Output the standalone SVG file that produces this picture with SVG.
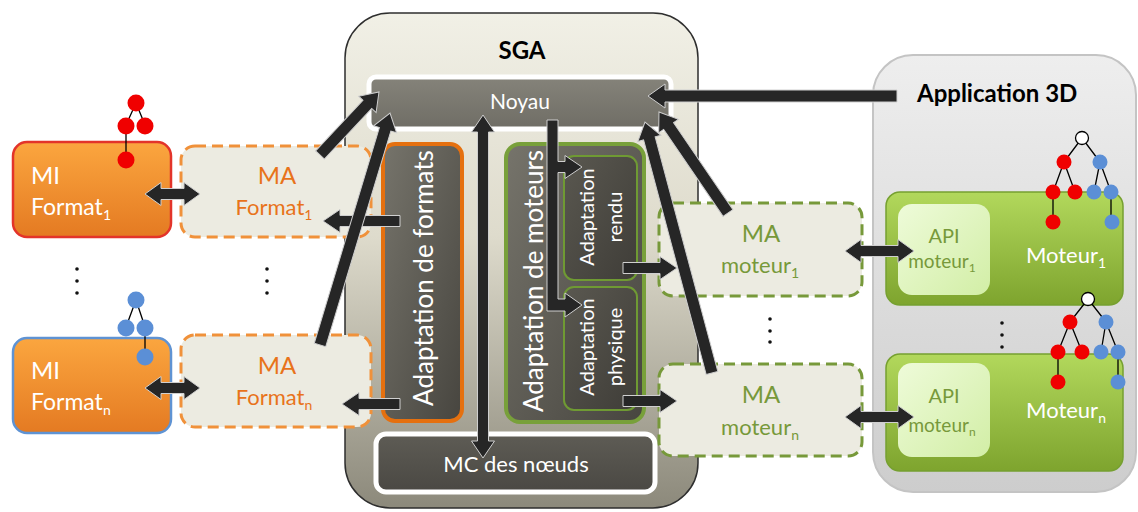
<svg xmlns="http://www.w3.org/2000/svg" width="1138" height="512" viewBox="0 0 1138 512">
<defs>
<linearGradient id="gSga" x1="0" y1="0" x2="0" y2="1">
<stop offset="0" stop-color="#f1f0e6"/><stop offset="0.45" stop-color="#dedbcc"/><stop offset="1" stop-color="#8c897b"/>
</linearGradient>
<linearGradient id="gApp" x1="0" y1="0" x2="0" y2="1">
<stop offset="0" stop-color="#eeeeee"/><stop offset="1" stop-color="#cdcdcd"/>
</linearGradient>
<linearGradient id="gNoy" x1="0" y1="0" x2="0" y2="1">
<stop offset="0" stop-color="#85837a"/><stop offset="1" stop-color="#6f6d65"/>
</linearGradient>
<linearGradient id="gDark" x1="0" y1="0" x2="1" y2="1">
<stop offset="0" stop-color="#76746b"/><stop offset="1" stop-color="#47453f"/>
</linearGradient>
<linearGradient id="gSub" x1="0" y1="0" x2="1" y2="1">
<stop offset="0" stop-color="#5a5850"/><stop offset="1" stop-color="#3f3d38"/>
</linearGradient>
<linearGradient id="gMC" x1="0" y1="0" x2="0" y2="1">
<stop offset="0" stop-color="#5e5c55"/><stop offset="1" stop-color="#4a4843"/>
</linearGradient>
<linearGradient id="gOr" x1="0" y1="0" x2="0" y2="1">
<stop offset="0" stop-color="#fba63f"/><stop offset="1" stop-color="#e47a22"/>
</linearGradient>
<linearGradient id="gGr" x1="0" y1="0" x2="0" y2="1">
<stop offset="0" stop-color="#b2d85c"/><stop offset="1" stop-color="#7ea42e"/>
</linearGradient>
<linearGradient id="gApi" x1="0" y1="0" x2="1" y2="1">
<stop offset="0" stop-color="#eefbd9"/><stop offset="1" stop-color="#d2eea6"/>
</linearGradient>
<style>
text{font-family:Lato,"Liberation Sans",sans-serif}
.w{fill:#ffffff}
.or{fill:#e8731a}
.gr{fill:#77993a}
.ma{fill:#ecebe1;stroke-width:3;stroke-dasharray:11 6}
.mao{stroke:#f0913a}
.mag{stroke:#77993a}
.mi{fill:url(#gOr);stroke-width:2.5}
.mot{fill:url(#gGr);stroke:#76a030;stroke-width:1.5}
.api{fill:url(#gApi)}
.sub{fill:url(#gSub);stroke:#6f9a33;stroke-width:2}
.arr{fill:#262626;stroke:#cfcfcf;stroke-width:1}
.tl{stroke:#000;stroke-width:1.3;fill:none}
.r{fill:#f00000}
.b{fill:#5b8fd6}
.rt{fill:#ffffff;stroke:#000;stroke-width:1.3}
.dot{fill:#111}
</style>
</defs>

<g id="app3d">
<rect x="873" y="55" width="263" height="437" rx="40" fill="url(#gApp)" stroke="#c4c4c4" stroke-width="2"/>
<text x="917" y="102" font-size="24" font-weight="bold" fill="#000">Application 3D</text>
</g>

<g id="sga">
<rect x="345" y="13" width="353" height="495" rx="45" fill="url(#gSga)" stroke="#2e2e2e" stroke-width="1.5"/>
<text x="522" y="59" font-size="24" font-weight="bold" text-anchor="middle" fill="#000">SGA</text>
</g>

<g id="noyau">
<rect x="369" y="77" width="302" height="52" rx="7" fill="url(#gNoy)" stroke="#ffffff" stroke-width="5"/>
<text x="520" y="109" font-size="21" text-anchor="middle" class="w">Noyau</text>
</g>

<g id="adapt-formats">
<rect x="383" y="144" width="79" height="277" rx="12" fill="url(#gDark)" stroke="#e5700f" stroke-width="4"/>
<text transform="translate(433,278) rotate(-90)" font-size="26" text-anchor="middle" class="w">Adaptation de formats</text>
</g>

<g id="adapt-moteurs">
<rect x="506" y="144" width="138" height="278" rx="14" fill="url(#gDark)" stroke="#78a03a" stroke-width="4"/>
<text transform="translate(543,281) rotate(-90)" font-size="26" text-anchor="middle" class="w">Adaptation de moteurs</text>
</g>

<g id="adapt-rendu">
<rect x="564" y="156" width="73" height="124" rx="10" class="sub"/>
<g transform="translate(594,217) rotate(-90)" font-size="20" text-anchor="middle">
<text x="0" y="0" class="w">Adaptation</text>
<text x="0" y="28" class="w">rendu</text>
</g>
</g>

<g id="adapt-physique">
<rect x="564" y="287" width="73" height="123" rx="10" class="sub"/>
<g transform="translate(594,347) rotate(-90)" font-size="20" text-anchor="middle">
<text x="0" y="0" class="w">Adaptation</text>
<text x="0" y="28" class="w">physique</text>
</g>
</g>

<g id="mc-noeuds">
<rect x="376" y="434" width="279" height="58" rx="10" fill="url(#gMC)" stroke="#ffffff" stroke-width="5"/>
<text x="516" y="472" font-size="22" text-anchor="middle" class="w">MC des nœuds</text>
</g>

<g id="mi-format1">
<rect x="13" y="142" width="158" height="95" rx="14" class="mi" stroke="#e3342a"/>
<text x="31" y="184" font-size="24" class="w">MI</text>
<text x="31" y="215" font-size="23" class="w">Format<tspan font-size="14" dy="5">1</tspan></text>
<g id="tree-mi1">
<path class="tl" d="M136,103 L126,125 M136,103 L145,125 M126,125 V160"/>
<circle cx="136" cy="103" r="8.5" class="r"/>
<circle cx="126" cy="126" r="8.5" class="r"/>
<circle cx="145" cy="126" r="8.5" class="r"/>
<circle cx="126" cy="160" r="8.5" class="r"/>
</g>
</g>

<g id="mi-formatn">
<rect x="13" y="338" width="158" height="95" rx="14" class="mi" stroke="#5f93d3"/>
<text x="31" y="379" font-size="24" class="w">MI</text>
<text x="31" y="410" font-size="23" class="w">Format<tspan font-size="14" dy="5">n</tspan></text>
<g id="tree-min">
<path class="tl" d="M136,300 L126,327 M136,300 L145,327 M145,327 V357"/>
<circle cx="136" cy="300" r="8.5" class="b"/>
<circle cx="126" cy="328" r="8.5" class="b"/>
<circle cx="145" cy="328" r="8.5" class="b"/>
<circle cx="145" cy="357" r="8.5" class="b"/>
</g>
</g>

<g id="ma-format1">
<rect x="181" y="146" width="190" height="91" rx="14" class="ma mao"/>
<text x="277" y="184" font-size="24" text-anchor="middle" class="or">MA</text>
<text x="274" y="215" font-size="22" text-anchor="middle" class="or">Format<tspan font-size="14" dy="5">1</tspan></text>
</g>

<g id="ma-formatn">
<rect x="181" y="335" width="190" height="92" rx="14" class="ma mao"/>
<text x="277" y="374" font-size="24" text-anchor="middle" class="or">MA</text>
<text x="274" y="405" font-size="22" text-anchor="middle" class="or">Format<tspan font-size="14" dy="5">n</tspan></text>
</g>

<g id="ma-moteur1">
<rect x="659" y="203" width="203" height="93" rx="14" class="ma mag"/>
<text x="761" y="242" font-size="24" text-anchor="middle" class="gr">MA</text>
<text x="760" y="273" font-size="22" text-anchor="middle" class="gr">moteur<tspan font-size="14" dy="5">1</tspan></text>
</g>

<g id="ma-moteurn">
<rect x="659" y="364" width="203" height="92" rx="14" class="ma mag"/>
<text x="761" y="403" font-size="24" text-anchor="middle" class="gr">MA</text>
<text x="760" y="435" font-size="22" text-anchor="middle" class="gr">moteur<tspan font-size="14" dy="5">n</tspan></text>
</g>

<g id="moteur1">
<rect x="886" y="192" width="237" height="113" rx="14" class="mot"/>
<rect x="898" y="204" width="92" height="91" rx="14" class="api"/>
<text x="944" y="243" font-size="20" text-anchor="middle" class="gr">API</text>
<text x="942" y="268" font-size="19" text-anchor="middle" class="gr">moteur<tspan font-size="12" dy="4">1</tspan></text>
<text x="1066" y="263" font-size="22" text-anchor="middle" class="w">Moteur<tspan font-size="14" dy="5">1</tspan></text>
<g id="tree-mot1">
<path class="tl" d="M1082,138 L1064,162 M1082,138 L1100,162 M1064,162 L1053,192 M1064,162 L1075,192 M1100,162 L1094,192 M1100,162 L1111,192 M1053,192 V222 M1111,192 V222"/>
<circle cx="1082" cy="138" r="6.5" class="rt"/>
<circle cx="1064" cy="162" r="7.5" class="r"/>
<circle cx="1100" cy="162" r="7.5" class="b"/>
<circle cx="1053" cy="192" r="7.5" class="r"/>
<circle cx="1075" cy="192" r="7.5" class="r"/>
<circle cx="1094" cy="192" r="7.5" class="b"/>
<circle cx="1111" cy="192" r="7.5" class="b"/>
<circle cx="1053" cy="222" r="7.5" class="r"/>
<circle cx="1112" cy="222" r="7.5" class="b"/>
</g>
</g>

<g id="moteurn">
<rect x="886" y="354" width="237" height="117" rx="14" class="mot"/>
<rect x="898" y="363" width="92" height="94" rx="14" class="api"/>
<text x="944" y="403" font-size="20" text-anchor="middle" class="gr">API</text>
<text x="942" y="432" font-size="19" text-anchor="middle" class="gr">moteur<tspan font-size="12" dy="4">n</tspan></text>
<text x="1066" y="418" font-size="22" text-anchor="middle" class="w">Moteur<tspan font-size="14" dy="5">n</tspan></text>
<g id="tree-motn">
<path class="tl" d="M1088,299 L1070,322 M1088,299 L1106,322 M1070,322 L1058,352 M1070,322 L1082,352 M1106,322 L1101,352 M1106,322 L1118,352 M1058,352 V382 M1118,352 V382"/>
<circle cx="1088" cy="299" r="6.5" class="rt"/>
<circle cx="1070" cy="322" r="7.5" class="r"/>
<circle cx="1106" cy="322" r="7.5" class="b"/>
<circle cx="1058" cy="352" r="7.5" class="r"/>
<circle cx="1082" cy="352" r="7.5" class="r"/>
<circle cx="1101" cy="352" r="7.5" class="b"/>
<circle cx="1118" cy="352" r="7.5" class="b"/>
<circle cx="1058" cy="382" r="7.5" class="r"/>
<circle cx="1118" cy="382" r="7.5" class="b"/>
</g>
</g>

<g id="ellipses">
<circle cx="77" cy="269" r="1.8" class="dot"/><circle cx="77" cy="281" r="1.8" class="dot"/><circle cx="77" cy="293" r="1.8" class="dot"/>
<circle cx="267" cy="269" r="1.8" class="dot"/><circle cx="267" cy="281" r="1.8" class="dot"/><circle cx="267" cy="293" r="1.8" class="dot"/>
<circle cx="770" cy="319" r="1.8" class="dot"/><circle cx="770" cy="331" r="1.8" class="dot"/><circle cx="770" cy="342" r="1.8" class="dot"/>
<circle cx="1002" cy="323" r="1.8" class="dot"/><circle cx="1002" cy="335" r="1.8" class="dot"/><circle cx="1002" cy="347" r="1.8" class="dot"/>
</g>

<g id="connectors">
<path class="arr" d="M145,194 L161,182.5 V188.5 H184 V182.5 L200,194 L184,205.5 V199.5 H161 V205.5 Z"/>
<path class="arr" d="M145,388 L161,376.5 V382.5 H184 V376.5 L200,388 L184,399.5 V393.5 H161 V399.5 Z"/>
<path class="arr" d="M400,215.5 H340 V209.5 L323,221 L340,232.5 V226.5 H400 Z"/>
<path class="arr" d="M400,398.5 H359 V392.5 L342,404 L359,415.5 V409.5 H400 Z"/>
<path class="arr" transform="translate(320,155) rotate(-46.9)" d="M0,-6 H69.3 V-12 L86.3,0 L69.3,12 V6 H0 Z"/>
<path class="arr" transform="translate(320,345) rotate(-73.2)" d="M0,-6 H225.3 V-12 L242.3,0 L225.3,12 V6 H0 Z"/>
<path class="arr" d="M483,115 L494.5,132 H488.5 V441 H494.5 L483,458 L471.5,441 H477.5 V132 H471.5 Z"/>
<path class="arr" d="M547,120 H558 V161.5 H565 V155.5 L582,167 L565,178.5 V172.5 H558 V299 H565 V293 L582,305 L565,317 V311 H547 Z"/>
<path class="arr" d="M623,262.5 H660 V256.5 L677,268 L660,279.5 V273.5 H623 Z"/>
<path class="arr" d="M623,395.5 H660 V389.5 L677,401 L660,412.5 V406.5 H623 Z"/>
<path class="arr" transform="translate(728,213) rotate(-124.35)" d="M0,-6 H105.3 V-12 L122.3,0 L105.3,12 V6 H0 Z"/>
<path class="arr" transform="translate(712,373) rotate(-104.95)" d="M0,-6 H242.8 V-12 L259.8,0 L242.8,12 V6 H0 Z"/>
<path class="arr" d="M897,90 H665 V84 L648,96 L665,108 V102 H897 Z"/>
<path class="arr" d="M845,251 L861,239.5 V245.5 H898 V239.5 L914,251 L898,262.5 V256.5 H861 V262.5 Z"/>
<path class="arr" d="M845,417 L861,405.5 V411.5 H898 V405.5 L914,417 L898,428.5 V422.5 H861 V428.5 Z"/>
</g>
</svg>
